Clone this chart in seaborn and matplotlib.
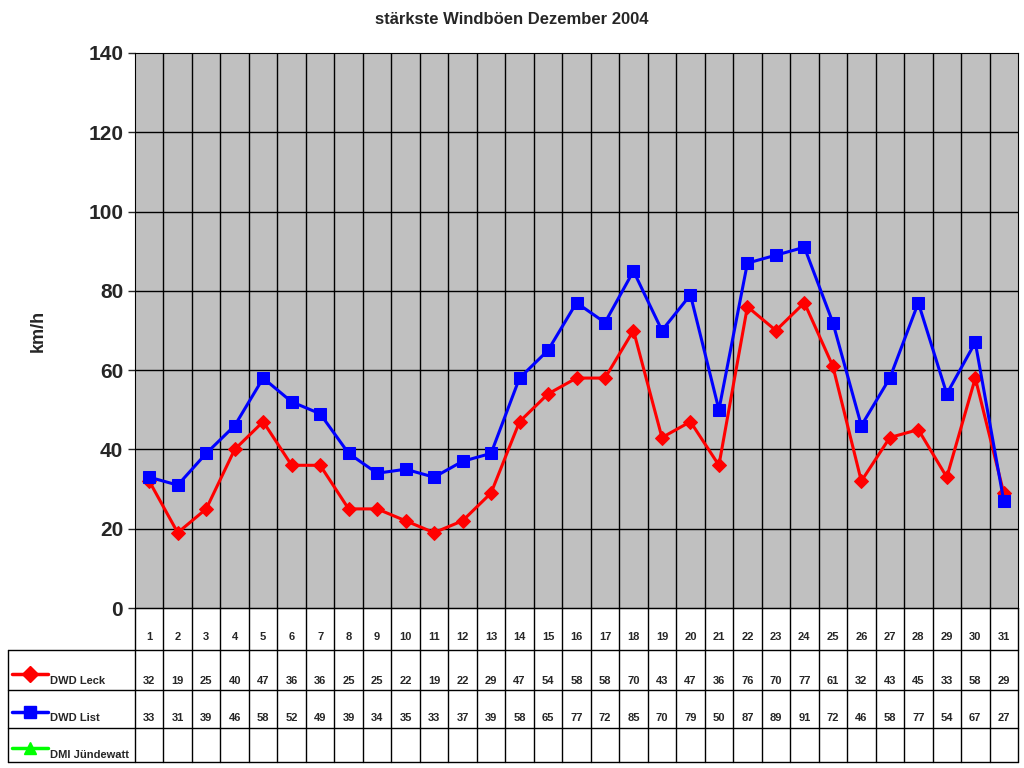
import numpy as np
import pandas as pd
import matplotlib
matplotlib.use('Agg')
import matplotlib.pyplot as plt
import seaborn as sns
from matplotlib.lines import Line2D

days = list(range(1, 32))
leck = [32, 19, 25, 40, 47, 36, 36, 25, 25, 22, 19, 22, 29, 47, 54, 58, 58, 70, 43, 47,
        36, 76, 70, 77, 61, 32, 43, 45, 33, 58, 29]
liste = [33, 31, 39, 46, 58, 52, 49, 39, 34, 35, 33, 37, 39, 58, 65, 77, 72, 85, 70, 79,
         50, 87, 89, 91, 72, 46, 58, 77, 54, 67, 27]
series_names = ['DWD Leck', 'DWD List', 'DMI Jündewatt']
colors = ['#FF0000', '#0000FF', '#00FF00']
markers = ['D', 's', '^']

sns.set_style('white')
plt.rcParams['font.family'] = ['Liberation Sans', 'DejaVu Sans']
plt.rcParams['font.weight'] = 'bold'

W, H = 1024, 768
fig = plt.figure(figsize=(10.24, 7.68), dpi=100)
x0, x1, y0, y1 = 135, 1018, 53, 608
ax = fig.add_axes([x0 / W, 1 - y1 / H, (x1 - x0) / W, (y1 - y0) / H])
ax.set_facecolor('#C0C0C0')

df = pd.DataFrame({'day': days * 2, 'v': leck + liste,
                   's': ['DWD Leck'] * 31 + ['DWD List'] * 31})
for name, col, mk in zip(series_names[:2], colors, markers):
    sns.lineplot(data=df[df.s == name], x='day', y='v', color=col, marker=mk,
                 markersize=8 if mk == 's' else 7, markeredgecolor=col, linewidth=2.2,
                 ax=ax, legend=False)

ax.set_xlim(0.5, 31.5)
ax.set_ylim(0, 140)
ax.set_yticks(range(0, 141, 20))
ax.set_xticks([])
for v in range(20, 140, 20):
    ax.axhline(v, color='black', lw=1, zorder=0)
for i in range(1, 31):
    ax.axvline(i + 0.5, color='black', lw=1, zorder=0)
ax.tick_params(axis='y', labelsize=15, length=5, direction='out', left=True, width=1)
for s in ax.spines.values():
    s.set_color('black')
ax.set_xlabel('')
ax.set_ylabel('km/h', fontsize=13, fontweight='bold', labelpad=30)
fig.text(0.5, 1 - 20 / H, 'stärkste Windböen Dezember 2004', ha='center', va='center',
         fontsize=12, fontweight='bold')

# data table
tax = fig.add_axes([0, 0, 1, 1])
tax.set_xlim(0, W)
tax.set_ylim(H, 0)
tax.axis('off')
rows = [608, 650, 690, 728, 762]
cw = (x1 - x0) / 31
for i in range(32):
    xx = x0 + i * cw
    tax.plot([xx, xx], [rows[0], rows[-1]], color='black', lw=1)
tax.plot([8, 8], [rows[1], rows[-1]], color='black', lw=1)
tax.plot([x0, x1], [rows[0], rows[0]], color='black', lw=1)
for r in rows[1:]:
    tax.plot([8, x1], [r, r], color='black', lw=1)
for i, d in enumerate(days):
    cx = x0 + (i + 0.5) * cw
    tax.text(cx, 637, str(d), ha='center', va='center', fontsize=8, fontweight='bold')
    tax.text(cx, 681, str(leck[i]), ha='center', va='center', fontsize=8, fontweight='bold')
    tax.text(cx, 718, str(liste[i]), ha='center', va='center', fontsize=8, fontweight='bold')
for j, (name, col, mk) in enumerate(zip(series_names, colors, markers)):
    yy = [674, 712, 748][j]
    tax.plot([12, 48], [yy, yy], color=col, lw=2.5)
    tax.plot([30], [yy], marker=mk, color=col, markersize=8)
    tax.text(50, [681, 718, 755][j], name, ha='left', va='center', fontsize=8,
             fontweight='bold')

fig.savefig('out.png', dpi=100)
